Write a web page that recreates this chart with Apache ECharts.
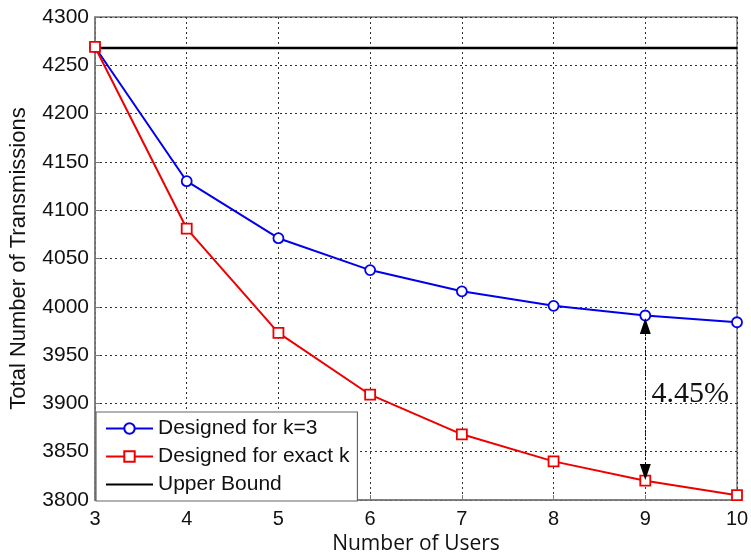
<!DOCTYPE html>
<html>
<head>
<meta charset="utf-8">
<script src="https://cdn.jsdelivr.net/npm/echarts@6/dist/echarts.min.js"></script>
<style>
html,body{margin:0;padding:0;background:#fff;}
#chart{width:751px;height:552px;}
</style>
</head>
<body>
<div id="chart"></div>
<script>
// ---- data ----
var users = [3, 4, 5, 6, 7, 8, 9, 10];
var designedK3 = [4269, 4130, 4071, 4038, 4016, 4001, 3991, 3984];
var designedExact = [4269, 4081, 3973, 3909, 3868, 3840, 3820, 3805];
var upperBound = [4268, 4268, 4268, 4268, 4268, 4268, 4268, 4268];
var seriesNames = ['Designed for k=3', 'Designed for exact k', 'Upper Bound'];
// double arrow between the two curves at 9 users (arrowhead centres)
var gapArrowX = 9;
var gapArrowFrom = 3980;
var gapArrowTo = 3829;
var gapLabel = '4.45%';
var gapLabelPos = [9.49, 3910];
var yTicks = { min: 3800, max: 4300, interval: 50 };
var xTicks = { min: 3, max: 10, interval: 1 };

function pairs(xs, ys) { return xs.map(function (x, i) { return [x, ys[i]]; }); }

var chart = echarts.init(document.getElementById('chart'), null, { renderer: 'canvas' });
var fontSans = 'Liberation Sans, Arial, sans-serif';
var gridLine = { show: true, lineStyle: { color: '#333', width: 1, type: [2, 3] } };

var option = {
  backgroundColor: '#fff',
  animation: false,
  grid: { left: 95, right: 14, top: 17, bottom: 52, containLabel: false, outerBoundsMode: 'none', show: true, borderColor: '#7a7a7a', borderWidth: 1.5, backgroundColor: 'transparent' },
  legend: {
    orient: 'vertical', left: 96, top: 412,
    data: [
      { name: seriesNames[0] },
      { name: seriesNames[1] },
      { name: seriesNames[2], icon: 'path://M0,0 L47,0 L47,2.2 L0,2.2 Z', itemStyle: { color: '#000' } }
    ],
    backgroundColor: '#fff', borderColor: '#666', borderWidth: 1.2,
    padding: [6, 8, 6, 9], itemGap: 7,
    itemWidth: 47, itemHeight: 13,
    textStyle: { fontFamily: fontSans, fontSize: 21, color: '#111' }
  },
  xAxis: {
    type: 'value', min: xTicks.min, max: xTicks.max, interval: xTicks.interval,
    name: 'Number of Users', nameLocation: 'middle', nameGap: 32,
    nameTextStyle: { fontFamily: 'Open Sans, sans-serif', fontSize: 21, color: '#111' },
    axisLine: { show: true, lineStyle: { color: '#7a7a7a', width: 1.5 } },
    axisTick: { show: true, inside: true, length: 5, lineStyle: { color: '#7a7a7a' } },
    axisLabel: { fontFamily: fontSans, fontSize: 20, color: '#111', margin: 9 },
    splitLine: gridLine
  },
  yAxis: {
    type: 'value', min: yTicks.min, max: yTicks.max, interval: yTicks.interval,
    name: 'Total Number of Transmissions', nameLocation: 'middle', nameGap: 65,
    nameTextStyle: { fontFamily: fontSans, fontSize: 22, color: '#111' },
    axisLine: { show: true, lineStyle: { color: '#7a7a7a', width: 1.5 } },
    axisTick: { show: true, inside: true, length: 5, lineStyle: { color: '#7a7a7a' } },
    axisLabel: { fontFamily: fontSans, fontSize: 21, color: '#111', margin: 6, formatter: function (v) { return String(v); } },
    splitLine: gridLine
  },
  series: [
    {
      name: seriesNames[2], type: 'line', data: pairs(users, upperBound), z: 2,
      symbol: 'none', lineStyle: { color: '#000', width: 2.5 }, itemStyle: { color: '#000' }
    },
    {
      name: seriesNames[0], type: 'line', data: pairs(users, designedK3), z: 3,
      symbol: 'circle', symbolSize: 10, showAllSymbol: true,
      lineStyle: { color: '#0000ee', width: 2 },
      itemStyle: { color: '#fff', borderColor: '#0000ee', borderWidth: 1.8 },
      markLine: {
        silent: true, symbol: ['triangle', 'triangle'], symbolSize: [11, 16],
        label: { show: false },
        itemStyle: { color: '#000' },
        lineStyle: { color: '#000', width: 1, type: [2, 2] },
        data: [[{ coord: [gapArrowX, gapArrowFrom] }, { coord: [gapArrowX, gapArrowTo] }]]
      },
      markPoint: {
        silent: true, symbol: 'circle', symbolSize: 0,
        label: { show: true, formatter: gapLabel, fontFamily: 'Liberation Serif, Times New Roman, serif', fontSize: 30, color: '#111', position: 'inside' },
        data: [{ coord: gapLabelPos }]
      }
    },
    {
      name: seriesNames[1], type: 'line', data: pairs(users, designedExact), z: 4,
      symbol: 'rect', symbolSize: 10, showAllSymbol: true,
      lineStyle: { color: '#ee0000', width: 2 },
      itemStyle: { color: '#fff', borderColor: '#ee0000', borderWidth: 1.8 }
    }
  ]
};
chart.setOption(option);
</script>
</body>
</html>
